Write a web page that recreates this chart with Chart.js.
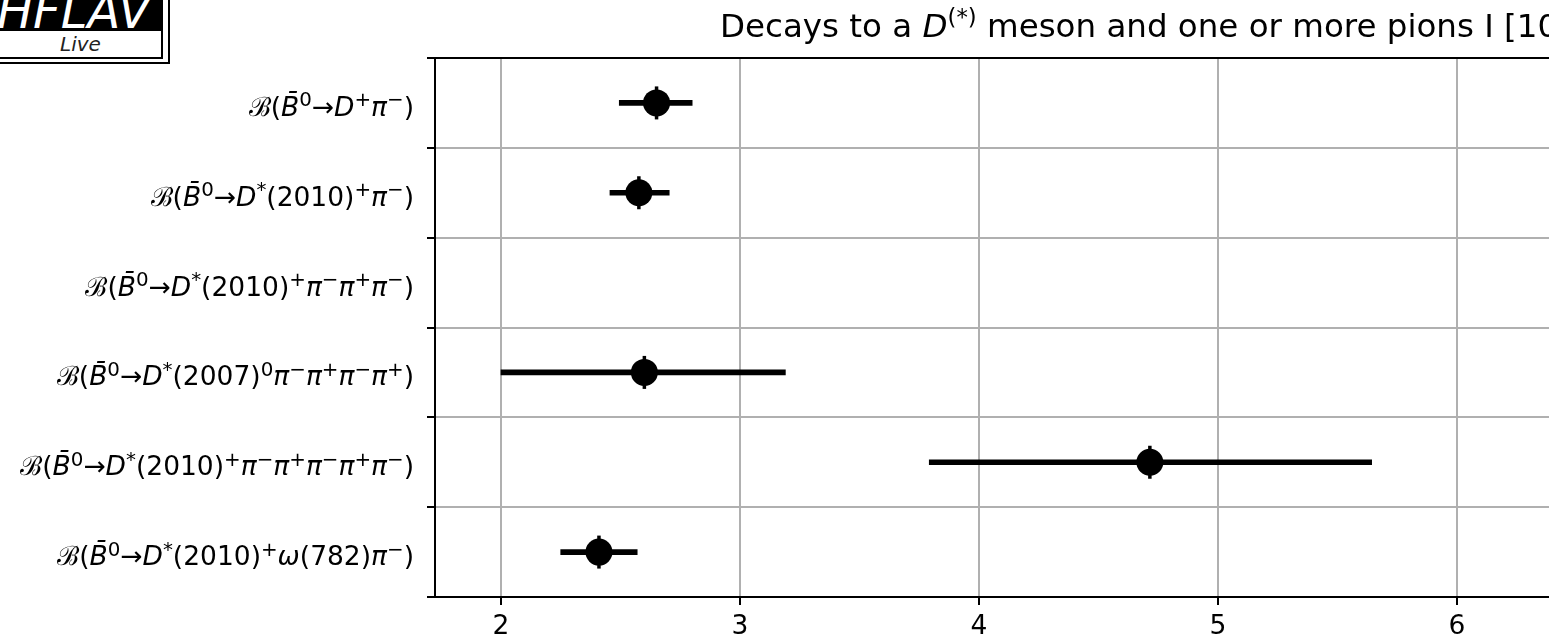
<!DOCTYPE html>
<html><head><meta charset="utf-8">
<script src="https://cdn.jsdelivr.net/npm/chart.js@4.4.1/dist/chart.umd.min.js"></script>
<style>
html,body{margin:0;padding:0;background:#fff;width:1555px;height:639px;overflow:hidden;position:relative;font-family:"DejaVu Sans";}
#wrap{position:absolute;left:0;top:0;width:1549px;height:639px;}
#frame{position:absolute;left:-2px;top:-2px;width:170px;height:64px;border-right:2px solid #000;border-bottom:2px solid #000;}
#box{position:absolute;left:-2px;top:-2px;width:161px;height:57px;border:2px solid #000;background:#fff;overflow:hidden;}
#hf{position:relative;height:31px;background:#000;overflow:hidden;}
#hf span{position:absolute;left:-3px;top:-13px;font:italic 48px/48px "DejaVu Sans";color:#fff;white-space:nowrap;}
#live{height:26px;text-align:center;font:italic 20px/26px "DejaVu Sans";color:#222;}
</style></head><body>
<div id="wrap"><canvas id="c" width="1549" height="639"></canvas></div>
<div id="frame"></div>
<div id="box"><div id="hf"><span>HFLAV</span></div><div id="live">Live</div></div>
<script>
// ---- data ----
const categories = [
  "$\u212C(B\u0304^{0}\u2192D^{+}\u03C0^{\u2212})$",
  "$\u212C(B\u0304^{0}\u2192D^{*}(2010)^{+}\u03C0^{\u2212})$",
  "$\u212C(B\u0304^{0}\u2192D^{*}(2010)^{+}\u03C0^{\u2212}\u03C0^{+}\u03C0^{\u2212})$",
  "$\u212C(B\u0304^{0}\u2192D^{*}(2007)^{0}\u03C0^{\u2212}\u03C0^{+}\u03C0^{\u2212}\u03C0^{+})$",
  "$\u212C(B\u0304^{0}\u2192D^{*}(2010)^{+}\u03C0^{\u2212}\u03C0^{+}\u03C0^{\u2212}\u03C0^{+}\u03C0^{\u2212})$",
  "$\u212C(B\u0304^{0}\u2192D^{*}(2010)^{+}\u03C9(782)\u03C0^{\u2212})$"
];
const values  = [2.651, 2.577, null, 2.60, 4.715, 2.41];
const errLow  = [2.495, 2.456, null, 2.00, 3.792, 2.25];
const errHigh = [2.800, 2.704, null, 3.19, 5.643, 2.57];
const xTicks = [2, 3, 4, 5, 6];
const xMin = 1.724, xMax = 6.385;
const titleText = "Decays to a $D^{(*)}$ meson and one or more pions I [10$^{\u22123}$]";

// ---- rich text ----
function parseRich(s){
  const runs=[]; let math=false, sup=false, single=false;
  for(let i=0;i<s.length;i++){
    const ch=s[i];
    if(ch==='$'){math=!math;continue;}
    if(math && ch==='^'){ if(s[i+1]==='{'){sup=true;i++;} else single=true; continue;}
    if(sup && ch==='}'){sup=false;continue;}
    if(/[\u0300-\u036f]/.test(ch)){ if(runs.length) runs[runs.length-1].text+=ch; continue; }
    const sp=sup||single;
    const cal = ch==='\u212C';
    const it=math && /[A-Za-z\u0391-\u03A9\u03B1-\u03C9]/.test(ch);
    const last=runs[runs.length-1];
    if(!cal && last && !last.cal && last.italic===it && last.sup===sp) last.text+=ch;
    else runs.push({text:ch,italic:it,sup:sp,cal:cal});
    single=false;
  }
  return runs;
}
function drawRich(ctx,s,x,y,size,align,supScale){
  const k=supScale||0.75;
  const runs=parseRich(s);
  const f=r=>(r.italic?'italic ':'')+(r.sup?size*k:size)+'px '+(r.cal?'"DejaVu Serif"':'"DejaVu Sans"');
  let total=0;
  runs.forEach(r=>{ctx.font=f(r); r.w=ctx.measureText(r.text).width; total+=r.w;});
  let cx = align==='right' ? x-total : (align==='center' ? x-total/2 : x);
  ctx.textAlign='left'; ctx.textBaseline='alphabetic'; ctx.fillStyle='#000';
  runs.forEach(r=>{ctx.font=f(r); ctx.fillText(r.text,cx,r.sup? y-size*0.36 : y); cx+=r.w;});
}

const richPlugin={
  id:'rich',
  afterDraw(chart){
    const {ctx,chartArea,scales}=chart;
    ctx.save();
    ctx.strokeStyle='#000'; ctx.lineWidth=2;
    ctx.beginPath(); ctx.moveTo(chartArea.left-1,chartArea.top); ctx.lineTo(chartArea.right,chartArea.top); ctx.stroke();
    categories.forEach((c,i)=>{
      const y=scales.y.getPixelForValue(i);
      drawRich(ctx,c,scales.y.right-21,y+13,26.5,'right',0.75);
    });
    drawRich(ctx,titleText,720,37,32.5,'left',0.7);
    ctx.restore();
  }
};

const pts=[], bars=[];
categories.forEach((c,i)=>{
  if(values[i]!=null){ pts.push({x:values[i],y:i}); bars.push({x:[errLow[i],errHigh[i]],y:i}); }
});

new Chart(document.getElementById('c'),{
  type:'scatter',
  data:{datasets:[
    {type:'scatter',data:pts,pointRadius:13.5,pointHoverRadius:13.5,backgroundColor:'#000',borderWidth:0,order:0},
    {type:'scatter',data:pts,pointStyle:'line',rotation:90,pointRadius:16.5,pointHoverRadius:16.5,borderColor:'#000',borderWidth:3.5,order:1},
    {type:'bar',indexAxis:'y',data:bars,backgroundColor:'#000',borderWidth:0,barThickness:5,order:2}
  ]},
  options:{
    responsive:false, animation:false, events:[],
    layout:{autoPadding:false,padding:{top:58,right:0,left:0,bottom:0}},
    plugins:{legend:{display:false},tooltip:{enabled:false},title:{display:false}},
    scales:{
      x:{type:'linear',position:'bottom',min:xMin,max:xMax,
        afterBuildTicks:s=>{s.ticks=xTicks.map(v=>({value:v}));},
        afterFit:s=>{s.height=42;},
        grid:{color:'#b0b0b0',lineWidth:2,tickColor:'#000',tickLength:8,tickWidth:2},
        border:{display:true,color:'#000',width:2},
        ticks:{font:{family:'DejaVu Sans',size:26.5},color:'#000',padding:6,maxRotation:0,callback:v=>String(v)}
      },
      y:{type:'linear',position:'left',reverse:true,min:-0.5,max:5.5,offset:false,
        afterBuildTicks:s=>{s.ticks=categories.map((c,i)=>({value:i}));},
        afterFit:s=>{s.width=435;},
        grid:{color:'#b0b0b0',lineWidth:2,tickColor:'#000',tickLength:8,tickWidth:2},
        border:{display:true,color:'#000',width:2},
        ticks:{display:false}
      }
    }
  },
  plugins:[richPlugin]
});
</script>
</body></html>
